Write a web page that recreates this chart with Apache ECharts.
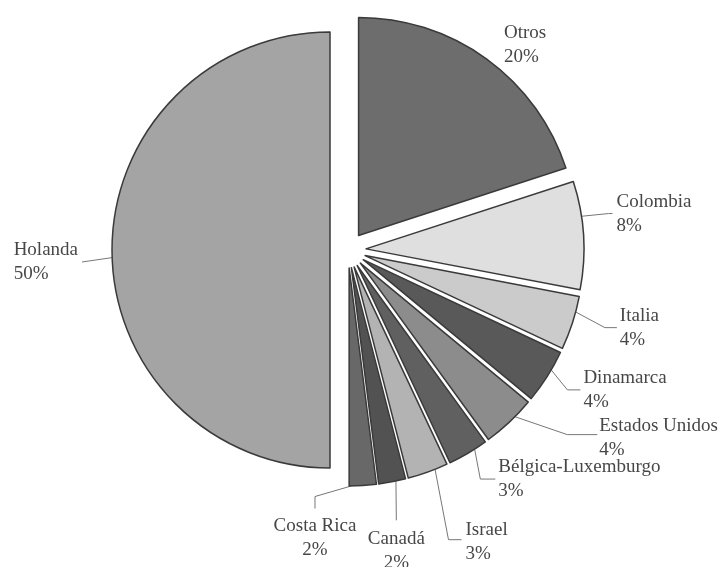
<!DOCTYPE html>
<html>
<head>
<meta charset="utf-8">
<script src="https://cdn.jsdelivr.net/npm/echarts@6/dist/echarts.min.js"></script>
<style>
html,body{margin:0;padding:0;background:#fff;}
#chart{width:722px;height:567px;}
</style>
</head>
<body>
<div id="chart"></div>
<script>
// Data
var countries = ['Otros', 'Colombia', 'Italia', 'Dinamarca', 'Estados Unidos', 'Bélgica-Luxemburgo', 'Israel', 'Canadá', 'Costa Rica', 'Holanda'];
var shares = [20, 8, 4, 4, 4, 3, 3, 2, 2, 50];

// Styles (separate from data)
var sliceColors = ['#6d6d6d', '#dfdfdf', '#cbcbcb', '#595959', '#8c8c8c', '#606060', '#b3b3b3', '#525252', '#686868', '#a4a4a4'];
var lineLen = [14, 10, 12, 12, 20, 22, 40, 30, 12, 15];
var lineLen2 = [6, 14, 18, 12, 40, 10, 10, 0, 10, 13];
var showLine = [false, true, true, true, true, true, true, true, true, true];
// label shift relative to default placement [dx, dy], and anchoring
var labelShift = [[-2,-3],[4,-21],[13,1],[9,7],[31,1],[4,7],[9,32],[-35,40],[-105,41],[-1,12]];
var centered = [false, false, false, false, false, false, false, true, true, false];
// leader line shape: anchor angle shift (deg), final segment length, gap to text, attach dy
var anchorShift = [0, -5, -3, -2, -2, -2, -2, -1, 3, -2];
var leaderEnd = [0, 4, 12, 13, 30, 15, 13, 0, 12, 0];
var leaderGap = [4, 4, 3, 3, 2, 3, 4, 7, 6, 4];
var leaderDy = [0, 0, 0, 0, -3, 0, -2, 0, 0, 0];

var baseCenter = [348, 250];
var pieRadius = 218;
var explode = 18;
var startAngle = 90;

var chart = echarts.init(document.getElementById('chart'), null, {renderer: 'canvas'});

var total = shares.reduce(function (a, b) { return a + b; }, 0);

function makeSeries(k) {
  var before = 0;
  for (var j = 0; j < k; j++) before += shares[j];
  var midCw = 360 * (before + shares[k] / 2) / total; // clockwise from top
  var rad = (startAngle - midCw) * Math.PI / 180;
  var cx = baseCenter[0] + explode * Math.cos(rad);
  var cy = baseCenter[1] - explode * Math.sin(rad);
  var data = countries.map(function (name, i) {
    var on = i === k;
    return {
      name: name,
      value: shares[i],
      itemStyle: on ? { color: sliceColors[i], borderColor: '#3a3a3a', borderWidth: 1.5 }
                    : { color: 'rgba(0,0,0,0)', borderWidth: 0 },
      label: { show: on },
      labelLine: { show: on && showLine[i], length: lineLen[i], length2: lineLen2[i] }
    };
  });
  return {
    type: 'pie',
    name: countries[k],
    center: [cx, cy],
    radius: [0, pieRadius],
    startAngle: startAngle,
    clockwise: true,
    avoidLabelOverlap: false,
    silent: true,
    emphasis: { disabled: true },
    data: data,
    label: {
      position: 'outside',
      formatter: '{b}\n{d}%',
      fontFamily: 'Liberation Serif',
      fontSize: 19,
      lineHeight: 24,
      color: '#474747'
    },
    labelLine: {
      lineStyle: { color: '#777777', width: 1 }
    },
    labelLayout: function (params) {
      var i = params.dataIndex;
      if (i !== k) return {};
      var s = labelShift[i];
      var r = params.labelRect;
      var left = r.x + s[0], top = r.y + s[1];
      var res;
      var a = (midCw + anchorShift[i]) * Math.PI / 180;
      var p0 = [cx + pieRadius * Math.sin(a), cy - pieRadius * Math.cos(a)];
      var p1, p2;
      if (centered[i]) {
        res = { x: left + r.width / 2, y: top, align: 'center', verticalAlign: 'top' };
        p2 = [left + r.width / 2, top - leaderGap[i]];
        p1 = [p2[0], p2[1] - leaderEnd[i]];
      } else {
        res = { x: left, y: top, align: 'left', verticalAlign: 'top' };
        var midY = top + r.height / 2 + leaderDy[i];
        if (p0[0] < cx) {
          p2 = [left + r.width + leaderGap[i], midY];
          p1 = [p2[0] + leaderEnd[i], midY];
        } else {
          p2 = [left - leaderGap[i], midY];
          p1 = [p2[0] - leaderEnd[i], midY];
        }
      }
      if (showLine[i]) res.labelLinePoints = [p0, p1, p2];
      return res;
    }
  };
}

var seriesList = countries.map(function (c, k) { return makeSeries(k); });

chart.setOption({
  animation: false,
  backgroundColor: '#ffffff',
  series: seriesList
});
</script>
</body>
</html>
